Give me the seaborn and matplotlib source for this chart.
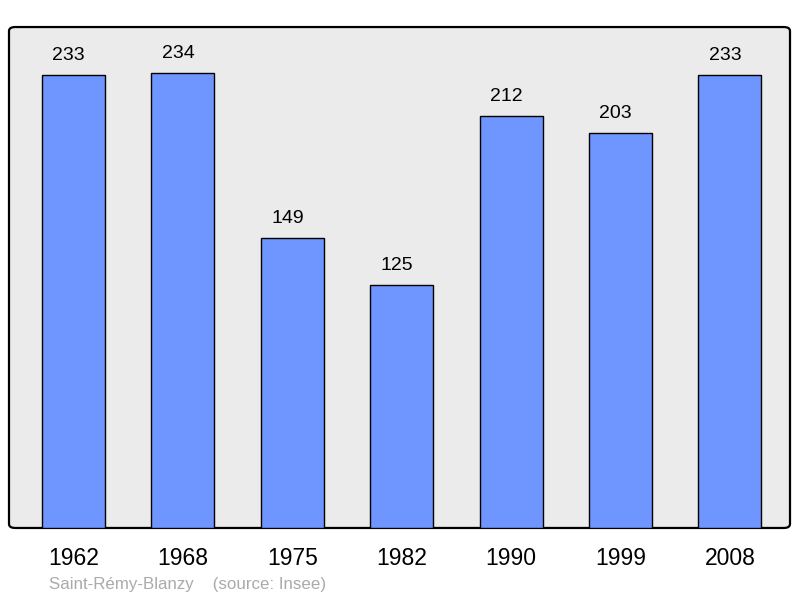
import matplotlib
matplotlib.use("Agg")
import matplotlib.pyplot as plt
import seaborn as sns
import pandas as pd
from matplotlib.patches import FancyBboxPatch

years = ["1962", "1968", "1975", "1982", "1990", "1999", "2008"]
population = [233, 234, 149, 125, 212, 203, 233]

sns.set_style("white")
plt.rcParams['font.family'] = ['Liberation Sans', 'DejaVu Sans']

df = pd.DataFrame({"year": years, "pop": population})

fig = plt.figure(figsize=(8, 5.98), dpi=100)
ax = fig.add_axes([0.01125, 0.1171, 0.97625, 0.8377])
ax.set_facecolor("none")

bg = FancyBboxPatch((0, 0), 1, 1, boxstyle="round,pad=0,rounding_size=0.008",
                    transform=ax.transAxes, facecolor="#EBEBEB", edgecolor="black",
                    linewidth=1.6, zorder=0, clip_on=False)
ax.add_patch(bg)

sns.barplot(data=df, x="year", y="pop", color="#6F96FF", width=0.576,
            edgecolor="black", linewidth=1.0, saturation=1, ax=ax, zorder=2)

for i, v in enumerate(population):
    ax.annotate(str(v), (i, v), xytext=(-3.5, 8), textcoords="offset points",
                ha="center", va="bottom", fontsize=14, color="black")

ax.set_xlim(-0.59, 6.55)
ax.set_ylim(0, 257.7)
for s in ax.spines.values():
    s.set_visible(False)
ax.set_yticks([])
ax.set_xlabel("")
ax.set_ylabel("")
ax.tick_params(axis="x", length=0, pad=14, labelsize=16.5, labelcolor="black")

fig.text(49/800, 1-584/598, "Saint-Rémy-Blanzy    (source: Insee)", color="#AAAAAA",
         fontsize=12.2, ha="left", va="center")

fig.savefig("out.png", dpi=100)
